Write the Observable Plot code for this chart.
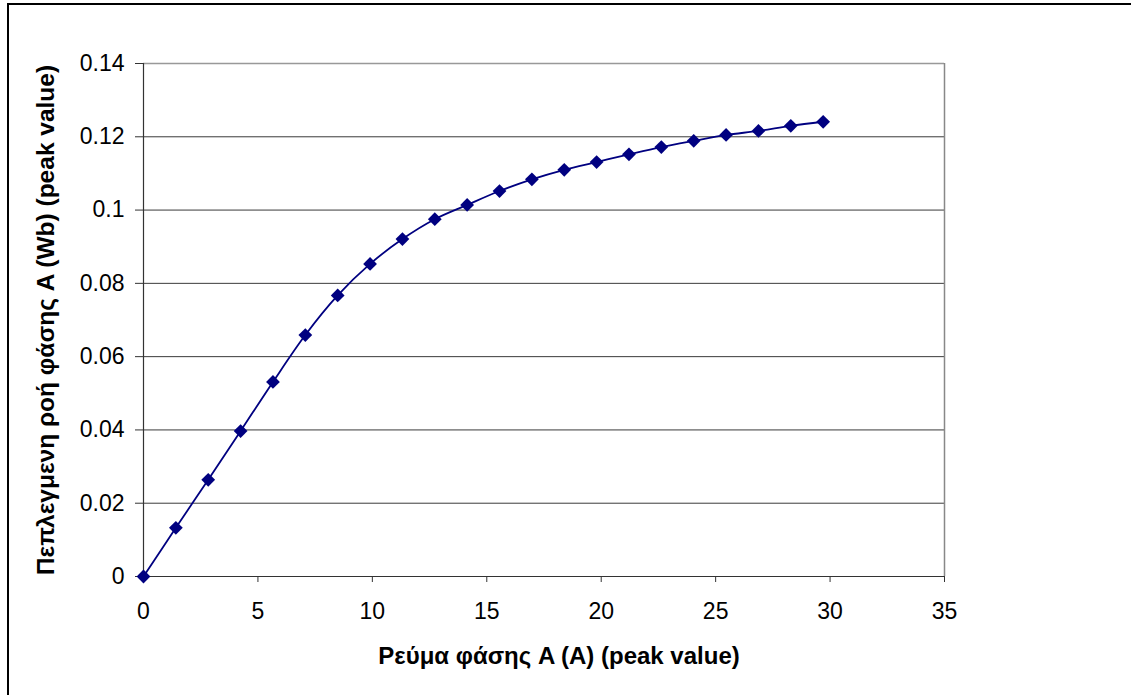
<!DOCTYPE html>
<html>
<head>
<meta charset="utf-8">
<script src="https://cdn.jsdelivr.net/npm/d3@7"></script>
<script src="https://cdn.jsdelivr.net/npm/@observablehq/plot@0.6"></script>
<style>
  html, body { margin: 0; padding: 0; background: #fff; }
  #wrap { position: relative; width: 1131px; height: 695px; overflow: hidden; }
  #frame { position: absolute; left: 7px; top: 3px; right: -10px; bottom: -10px;
           border-top: 2.5px solid #000; border-left: 2.5px solid #000; pointer-events: none; }
</style>
</head>
<body>
<div id="wrap"><div id="frame"></div></div>
<script>
// Phase current A (peak, A)
const current = [0, 1.414, 2.828, 4.243, 5.657, 7.071, 8.485, 9.9, 11.314, 12.728, 14.142,
  15.556, 16.971, 18.385, 19.799, 21.213, 22.627, 24.042, 25.456, 26.87, 28.284, 29.698];
// Flux linkage phase A (peak, Wb)
const flux = [0, 0.0133, 0.0264, 0.0397, 0.0531, 0.0659, 0.0767, 0.0853, 0.0921, 0.0975, 0.1014,
  0.1052, 0.1084, 0.1110, 0.1131, 0.1152, 0.1172, 0.1189, 0.1205, 0.1216, 0.1230, 0.1241];
const xTicks = [0, 5, 10, 15, 20, 25, 30, 35];
const yTicks = [0, 0.02, 0.04, 0.06, 0.08, 0.1, 0.12, 0.14];
const xLabel = "Ρεύμα φάσης A (A) (peak value)";
const yLabel = "Πεπλεγμενη ροή φάσης A (Wb) (peak value)";

const data = current.map((c, i) => ({x: c, y: flux[i]}));
const fmt = d3.format("~g");

const chart = Plot.plot({
  width: 1131,
  height: 695,
  marginLeft: 143,
  marginRight: 187,
  marginTop: 63,
  marginBottom: 119,
  style: {fontFamily: "Arial, 'Liberation Sans', sans-serif", fontSize: "23px", color: "#000", background: "transparent"},
  x: {domain: [0, 35]},
  y: {domain: [0, 0.14]},
  marks: [
    Plot.ruleY(yTicks.filter(d => d > 0 && d < 0.14), {stroke: "#3a3a3a", strokeWidth: 1, strokeOpacity: 1}),
    Plot.ruleY([0.14], {stroke: "#999", strokeWidth: 1.5}),
    Plot.ruleX([35], {stroke: "#888", strokeWidth: 1.5}),
    Plot.ruleX([0], {stroke: "#333", strokeWidth: 1.2}),
    Plot.ruleY([0], {stroke: "#333", strokeWidth: 1.2}),
    Plot.axisX({ticks: xTicks, tickFormat: fmt, tickSize: 6, tickPadding: 20, label: null, fontSize: 23, stroke: "#333"}),
    Plot.axisY({ticks: yTicks, tickFormat: fmt, tickSize: 8, tickPadding: 11, label: null, fontSize: 23, stroke: "#333"}),
    Plot.line(data, {x: "x", y: "y", stroke: "#000080", strokeWidth: 1.8, curve: "catmull-rom"}),
    Plot.dot(data, {x: "x", y: "y", symbol: "diamond2", r: 6.2, fill: "#000080", stroke: "none"}),
    Plot.text([xLabel], {frameAnchor: "bottom", dx: 15, dy: 87, textAnchor: "middle", fontSize: 24, fontWeight: "bold", fill: "#000"}),
    Plot.text([yLabel], {frameAnchor: "left", rotate: -90, dx: -97, textAnchor: "middle", fontSize: 24.5, fontWeight: "bold", fill: "#000"})
  ]
});
document.getElementById("wrap").prepend(chart);
</script>
</body>
</html>
